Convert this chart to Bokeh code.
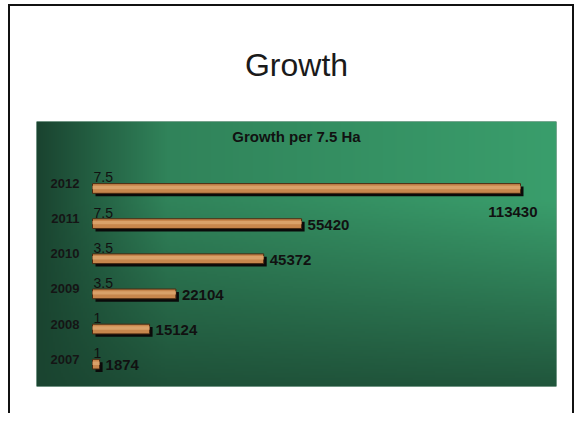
import numpy as np
from bokeh.plotting import figure
from bokeh.models import Range1d, FixedTicker, Label, ColumnDataSource, CDSView, IndexFilter
from bokeh.transform import dodge
from bokeh.core.properties import value
from bokeh.embed import file_html
from bokeh.resources import INLINE

# ---- data ----
years = ["2007", "2008", "2009", "2010", "2011", "2012"]
growth = [1874, 15124, 22104, 45372, 55420, 113430]
area_labels = ["1", "1", "3.5", "3.5", "7.5", "7.5"]
chart_title = "Growth"
chart_subtitle = "Growth per 7.5 Ha"

FONT = "Liberation Sans"
W, H = 548, 407
ML, MR, MT, MB = 26, 2, 107, 27
FW, FH = W - ML - MR, H - MT - MB

# scales
px_per_x = 428.0 / max(growth)
x_start = -56.0 / px_per_x
x_end = x_start + FW / px_per_x
px_per_y = 36.2
y_start = -23.0 / px_per_y
y_end = y_start + FH / px_per_y

p = figure(width=W, height=H, output_backend="svg", toolbar_location=None,
           x_range=Range1d(x_start, x_end), y_range=Range1d(y_start, y_end),
           min_border_left=ML, min_border_right=MR, min_border_top=MT, min_border_bottom=MB)
# slide frame drawn with box-shadows
shadows = ["14px 0 0 0 #fff", "-2px 0 0 0 #111", "0 -2px 0 0 #111", "-2px -2px 0 0 #111",
           "16px -2px 0 0 #111", "16px 0 0 0 #111"]
p.styles = {"transform": "translate(10px, 6px)", "box-shadow": ", ".join(shadows),
            "background-color": "#ffffff"}
p.background_fill_color = "#1e5a3e"
p.border_fill_color = "white"
p.border_fill_alpha = 0.0
p.outline_line_color = None
p.grid.visible = False
p.xaxis.visible = False

# gradient background
nx, ny = 260, 140
u = np.linspace(0, 1, nx)[None, :]
v = np.linspace(1, 0, ny)[:, None]
h = np.clip(u / 0.25, 0, 1) * 0.6 + 0.4 * u
vert = np.clip(1 - (v - 0.3) / 0.7, 0, 1)
L = h * (0.2 + 0.8 * vert)
dark = np.array([26, 68, 48])
light = np.array([58, 158, 108])
rgb = dark[None, None, :] + (light - dark)[None, None, :] * L[:, :, None]
img = np.empty((ny, nx), dtype=np.uint32)
view = img.view(dtype=np.uint8).reshape((ny, nx, 4))
view[:, :, 0] = rgb[:, :, 0].astype(np.uint8)
view[:, :, 1] = rgb[:, :, 1].astype(np.uint8)
view[:, :, 2] = rgb[:, :, 2].astype(np.uint8)
view[:, :, 3] = 255
p.image_rgba(image=[img], x=x_start, y=y_start, dw=x_end - x_start, dh=y_end - y_start)

src = ColumnDataSource(dict(
    y=list(range(len(years))), v=growth, zero=[0] * len(years),
    label=[str(g) for g in growth], area=area_labels, year=years,
))

bh = 10.0 / px_per_y
dx = 3.0 / px_per_x
dy = 3.0 / px_per_y

# shadow
p.hbar(y=dodge("y", -dy), left=dodge("zero", dx), right=dodge("v", dx), height=bh,
       source=src, fill_color="#0a0a0a", line_color=None)
# wooden bar
p.hbar(y="y", left="zero", right="v", height=bh, source=src,
       fill_color="#c7864c", line_color="#4a2a12", line_width=1)
p.hbar(y=dodge("y", bh * 0.1), left="zero", right="v", height=bh * 0.35, source=src,
       fill_color="#dca66e", line_color=None, fill_alpha=0.85)

imax = growth.index(max(growth))
others = [i for i in range(len(growth)) if i != imax]
p.text(x="v", y="y", text="label", source=src, view=CDSView(filter=IndexFilter(others)),
       x_offset=6, y_offset=1, text_align="left", text_baseline="middle",
       text_font=value(FONT), text_font_size="15px", text_font_style="bold", text_color="#111111")
p.text(x="v", y="y", text="label", source=src, view=CDSView(filter=IndexFilter([imax])),
       x_offset=17, y_offset=24, text_align="right", text_baseline="middle",
       text_font=value(FONT), text_font_size="15px", text_font_style="bold", text_color="#111111")
p.text(x="zero", y="y", text="area", source=src,
       x_offset=1, y_offset=-6, text_align="left", text_baseline="bottom",
       text_font=value(FONT), text_font_size="14px", text_font_style="normal", text_color="#111111")

# year axis inside panel
shift = 0.14
ticks = [i + shift for i in range(len(years))]
p.yaxis.fixed_location = 0
p.yaxis.ticker = FixedTicker(ticks=ticks)
p.yaxis.major_label_overrides = {t: yr for t, yr in zip(ticks, years)}
p.yaxis.axis_line_color = None
p.yaxis.major_tick_line_color = None
p.yaxis.minor_tick_line_color = None
p.yaxis.major_label_standoff = 7
p.yaxis.major_label_text_font = FONT
p.yaxis.major_label_text_font_size = "13px"
p.yaxis.major_label_text_font_style = "bold"
p.yaxis.major_label_text_color = "#151515"

# titles
p.title.text = chart_title
p.title.align = "center"
p.title.vertical_align = "bottom"
p.title.standoff = 77
p.title.text_font = FONT
p.title.text_font_size = "32px"
p.title.text_font_style = "normal"
p.title.text_color = "#1a1a1a"

p.add_layout(Label(x=FW / 2, y=FH - 23, x_units="screen", y_units="screen", text=chart_subtitle,
                   text_align="center", text_baseline="middle", text_font=FONT,
                   text_font_size="15px", text_font_style="bold", text_color="#111111"))

open("out.html", "w").write(file_html(p, INLINE))
